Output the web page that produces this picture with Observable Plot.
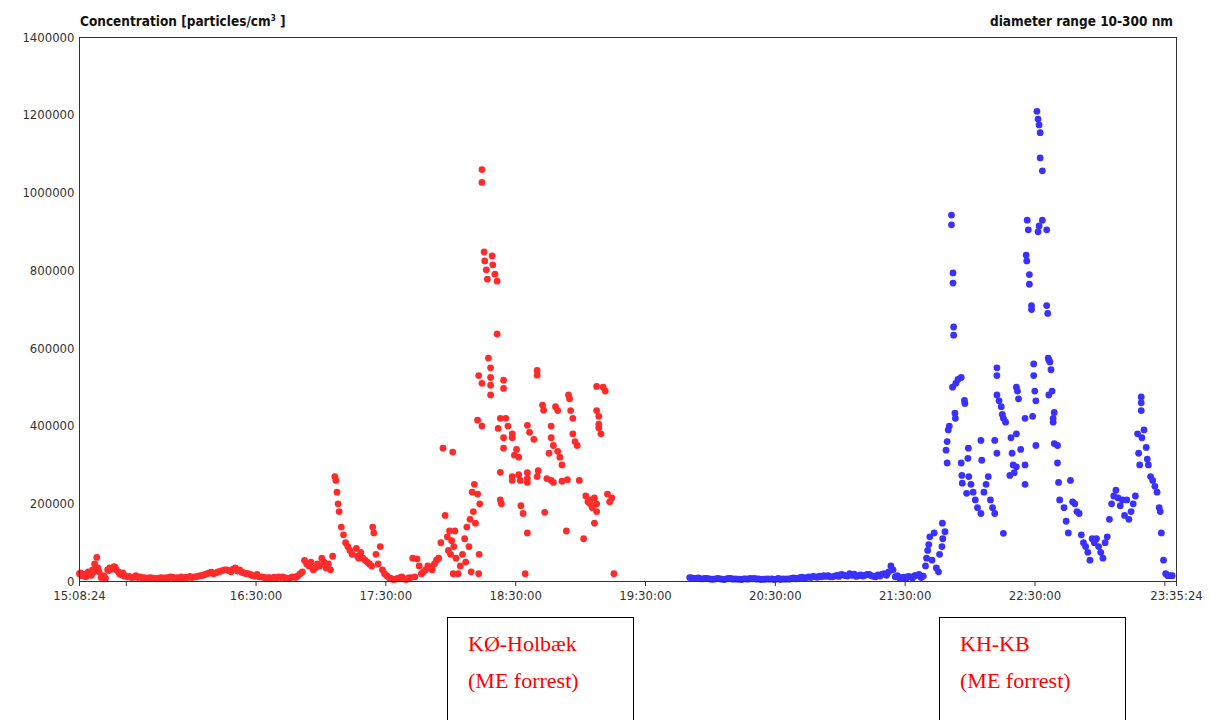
<!DOCTYPE html>
<html><head><meta charset="utf-8">
<script src="https://cdn.jsdelivr.net/npm/d3@7"></script>
<script src="https://cdn.jsdelivr.net/npm/@observablehq/plot@0.6"></script>
<style>
body{margin:0;background:#fff;font-family:"DejaVu Sans",sans-serif;}
#wrap{position:relative;width:1211px;height:720px;overflow:hidden;}
#chart{position:absolute;left:0;top:0;}
.t{position:absolute;font-weight:bold;font-size:13.5px;color:#111;font-family:"DejaVu Sans Condensed","DejaVu Sans",sans-serif;}
.box{position:absolute;top:617px;width:187px;height:120px;border:1px solid #000;font-family:"Liberation Serif",serif;color:#f00;font-size:22px;line-height:37px;box-sizing:border-box;padding:7px 0 0 20px;}
</style></head>
<body><div id="wrap">
<div id="chart"></div>
<div class="t" style="left:80px;top:13px">Concentration [particles/cm<sup style="font-size:8px">3</sup> ]</div>
<div class="t" style="right:38px;top:13px">diameter range 10-300 nm</div>
<div class="box" style="left:447px">KØ-Holbæk<br>(ME forrest)</div>
<div class="box" style="left:939px">KH-KB<br>(ME forrest)</div>
</div>
<script>
// minutes after 15:08:24, concentration in thousands of particles/cm3
const redMinutes = [0,1,2,3,4,5,6,7,8,9,10,11,12,13,14,15,16,17,18,19,20,21,22,24,26,28,30,34,38,42,46,50,54,56,58,60,62,64,66,68,70,72,74,76,78,80,82,84,88,92,96,100,102,104,106,108,110,112,114,116,118,118.5,119,119.5,120,121,122,123,124,125,126,128,129,130,132,133,135,135.5,136,138,139,140,143,145,147,149,151,153,154,156,157,159,161,163,165,166,167,168,169,170,170.5,171,171.5,172,172.5,172.7,173,173.5,174,175,176,177,178,178.5,179,180,180.5,181,181.5,182,182.5,183,184,184.5,184.7,185,184,184.5,186,186,186,186,187,187.3,188,188.5,189,190,190,190,190,190.7,191,192,193,193,193.5,194.5,194.5,194.5,195,196,196,196,196,197,198,200,200,200,200,201,202,203,203,203.7,204,205,206,207,207,207,207,207,208,210,211.5,211.5,211.5,212,214,214.5,215,216,217,218,218,218,219,219,220,221,221,222,223,223,225,225.5,226,226.5,227,228,228,229,230,231,233,234,235,236,236,237,238,238,239,239,239,239,240,240,240,241,242,243,244,245,246,247];
const redValues = [20,15,18,12,25,20,30,45,62,25,10,15,8,30,35,32,38,30,25,18,22,15,12,10,15,12,10,8,10,12,8,10,12,15,18,22,20,25,28,30,25,35,30,22,20,15,18,12,10,12,8,10,20,54,40,30,45,60,35,30,270,260,230,200,180,140,120,100,90,80,70,85,60,75,55,50,40,140,125,45,90,30,10,5,8,12,5,10,60,58,40,25,40,30,55,60,100,343,170,115,80,130,70,105,333,20,90,130,60,20,40,70,110,50,140,90,160,25,230,180,250,150,225,20,70,200,415,530,400,1060,510,1027,848,825,802,778,575,550,525,480,505,838,815,791,773,637,394,420,281,210,200,518,370,343,497,420,400,380,370,270,260,325,340,320,275,260,195,175,20,280,125,265,255,402,384,366,543,531,270,285,454,441,178,265,330,400,260,370,255,350,450,440,335,320,258,300,130,262,480,470,440,420,380,360,350,260,110,220,205,200,210,190,215,150,180,200,502,440,425,405,395,380,500,490,225,205,215,20,18,17,16,15];
// extra readings in the dense low band
const redLowMinutes = [0.5,1.5,2.5,3.5,5.5,6.5,8.5,11.5,13.5,16.5,18.5,20.5,23,25,27,29,31,32,33,35,36,37,39,40,41,43,44,45,47,48,49,51,52,53,55,57,59,61,63,65,67,69,71,73,75,77,79,81,83,85,86,87,89,90,91,93,94,95,97,98,99,101,103,105,107,109,111,113,115,117,128.5,131,134,137,141,142,144,146,148,150,152,155,158,160,162,164];
const redLowValues = [22,18,14,20,16,25,35,12,28,36,20,14,13,11,10,9,8,9,10,8,7,9,8,10,9,11,8,10,12,9,11,13,10,12,14,16,20,24,22,26,30,28,32,27,24,20,18,14,12,11,9,10,8,11,9,10,12,9,8,11,12,15,25,45,50,35,40,50,45,65,65,60,45,70,20,15,8,6,10,7,9,12,20,30,35,45];
const blueMinutes = [282,284,286,288,290,293,296,300,304,308,312,316,320,324,328,332,336,340,344,348,352,356,360,364,368,372,375,378,380,382,384,386,388,389,391,391.5,392,392.5,393,395,397,397.5,398.6,398.8,400,400.5,401,401,401.5,402,403,403,403.5,403.7,403.7,404,404,404.6,404.8,405,406,407.5,407.5,407.8,408,409,409.2,410,410.6,410.8,411,412,413,414,415,416.6,416.6,417,418,419,420,421,422,423,423,424,424,424,424,425,426,426.5,427,427,428,430,430.5,431,431.5,432,433,433,433,433.5,434,435,437,437,437,437.5,437.8,438,438.5,439,439,440,440,440.5,441,441,441.5,442,442,442.5,443,443,443.5,443.5,444,444,445,445,447,447,447.5,447.7,448,448,448.5,449,449.5,450,450,450.5,450.5,452,452,452.5,453,455,456,457,458,459,460,461,462,463,464,465,466,467,468,469,470,471,472,473,474,475,476,477,478,479,480,481,482,483,484,485,486,487,488,489,489.5,490,490.7,490.7,490.7,491,492,493,493.5,494,495,496,497,498,499,499.5,500,501,502,503,504,505];
const blueValues = [10,8,9,7,8,6,7,8,6,7,8,6,7,5,6,8,10,12,15,12,18,20,15,18,12,20,40,15,10,8,12,15,18,10,40,60,80,95,115,125,25,70,90,150,128,338,360,305,390,400,943,918,500,794,768,655,634,433,420,510,520,525,305,273,253,466,458,227,317,343,270,250,230,210,190,175,363,312,230,250,270,210,190,175,363,330,550,530,480,465,450,430,124,420,410,273,370,330,300,280,295,380,500,490,470,340,300,250,420,840,825,930,905,790,765,710,700,425,530,560,490,465,350,1210,900,1190,915,1175,1155,1090,1057,930,905,710,690,575,570,480,565,545,490,420,410,435,355,350,305,255,210,190,155,125,260,205,200,180,175,120,100,90,75,55,110,100,110,90,75,60,100,115,160,200,220,235,215,195,210,170,210,160,180,200,220,380,330,300,475,460,440,370,390,345,315,300,270,260,245,230,190,180,125,55,20,15,15,15];
// extra readings in the dense low band
const blueLowMinutes = [283,285,287,289,291,292,294,295,297,298,299,301,302,303,305,306,307,309,310,311,313,314,315,317,318,319,321,322,323,325,326,327,329,330,331,333,334,335,337,338,339,341,342,343,345,346,347,349,350,351,353,354,355,357,358,359,361,362,363,365,366,367,369,370,371,373,374,376,377,379,381,383,385,387,390,394,396,399];
const blueLowValues = [9,8,7,8,7,6,7,8,6,5,7,8,6,7,6,5,7,6,8,7,6,7,5,6,7,6,5,6,8,7,6,7,8,9,7,10,11,8,12,10,13,11,14,12,13,15,12,14,16,13,17,15,14,16,19,13,17,14,16,18,15,13,17,14,19,16,25,30,12,9,11,13,9,16,14,55,35,110];

const base = new Date(2000,0,1,15,8,24);
const toDate = m => new Date(base.getTime() + m*60000);
const mk = (ms, vs) => ms.map((m,i)=>({t:toDate(m), v:vs[i]*1000}));
const red = mk(redMinutes, redValues).concat(mk(redLowMinutes, redLowValues));
const blue = mk(blueMinutes, blueValues).concat(mk(blueLowMinutes, blueLowValues));

const xTicks = [[15,8,24],[15,30,0],[16,30,0],[17,30,0],[18,30,0],[19,30,0],[20,30,0],[21,30,0],[22,30,0],[23,30,0],[23,35,24]].map(a=>new Date(2000,0,1,a[0],a[1],a[2]));
const yTicks = [0,200000,400000,600000,800000,1000000,1200000,1400000];
const fmt = d3.timeFormat("%H:%M:%S");

const chart = Plot.plot({
  width:1211, height:612,
  marginLeft:79, marginRight:35, marginTop:37, marginBottom:31,
  style:{fontFamily:"'DejaVu Sans Condensed','DejaVu Sans',sans-serif", fontSize:"13px", color:"#333"},
  x:{type:"time", domain:[xTicks[0], xTicks[xTicks.length-1]], ticks:xTicks, tickSize:5,
     tickFormat:d=> (d.getMinutes()===30 && (d.getHours()===15||d.getHours()===23)) ? "" : fmt(d), label:null},
  y:{domain:[0,1400000], ticks:yTicks, tickSize:0, tickFormat:d3.format("d"), label:null, tickPadding:5},
  marks:[
    Plot.dot(red,{x:"t",y:"v",r:3.4,fill:"#ff2b2b",stroke:null}),
    Plot.dot(blue,{x:"t",y:"v",r:3.4,fill:"#3a30ff",stroke:null}),
    Plot.frame({stroke:"#333"})
  ]
});
document.getElementById("chart").appendChild(chart);
</script>
</body></html>
